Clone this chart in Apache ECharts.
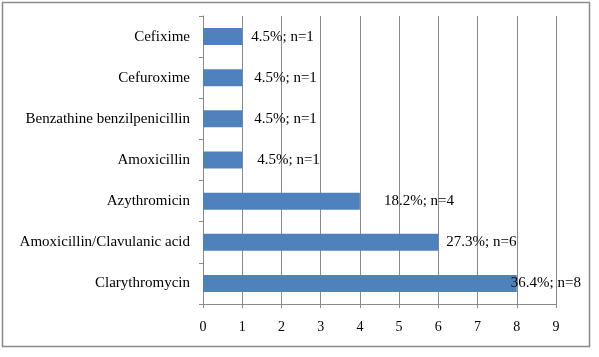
<!DOCTYPE html>
<html><head><meta charset="utf-8">
<script src="https://cdn.jsdelivr.net/npm/echarts@6/dist/echarts.min.js"></script>
<style>html,body{margin:0;padding:0;background:#fff}#c{width:599px;height:357px}</style>
</head><body><div id="c"></div>
<script>
const categories = ["Clarythromycin","Amoxicillin/Clavulanic acid","Azythromicin","Amoxicillin","Benzathine benzilpenicillin","Cefuroxime","Cefixime"];
const counts = [8, 6, 4, 1, 1, 1, 1];
const percents = ["36.4%", "27.3%", "18.2%", "4.5%", "4.5%", "4.5%", "4.5%"];
const xTicks = [0,1,2,3,4,5,6,7,8,9];
const labelShift = [-15, -1, 15, 6, 3, 3, 0];

const chart = echarts.init(document.getElementById('c'));
const F = '"Liberation Serif","DejaVu Serif",serif';
chart.setOption({
  animation:false,
  graphic:[{type:'rect',shape:{x:2.5,y:2.5,width:587,height:344},style:{fill:'none',stroke:'#8a8a8a',lineWidth:1.5}}],
  grid:{left:203,right:43,top:16,bottom:53},
  xAxis:{type:'value',min:0,max:9,interval:1,
    axisLine:{show:true,lineStyle:{color:'#8a8a8a'}},
    axisTick:{show:true,length:4,lineStyle:{color:'#8a8a8a'}},
    axisLabel:{color:'#000',fontFamily:F,fontSize:14,margin:16,formatter:v=>xTicks.includes(v)?String(v):''},
    splitLine:{show:true,lineStyle:{color:'#8a8a8a',width:1}}},
  yAxis:{type:'category',data:categories,
    axisLine:{show:true,lineStyle:{color:'#8a8a8a'}},
    axisTick:{show:true,length:4,lineStyle:{color:'#8a8a8a'}},
    axisLabel:{color:'#000',fontFamily:F,fontSize:15,margin:13}},
  series:[{type:'bar',barWidth:17,
    data:counts.map((v,i)=>({value:v,label:{offset:[labelShift[i],0]}})),
    itemStyle:{color:'#4F81BD'},
    label:{show:true,position:'right',distance:9,color:'#000',fontFamily:F,fontSize:15,
      formatter:p=>percents[p.dataIndex]+'; n='+counts[p.dataIndex]}}]
});
</script></body></html>
